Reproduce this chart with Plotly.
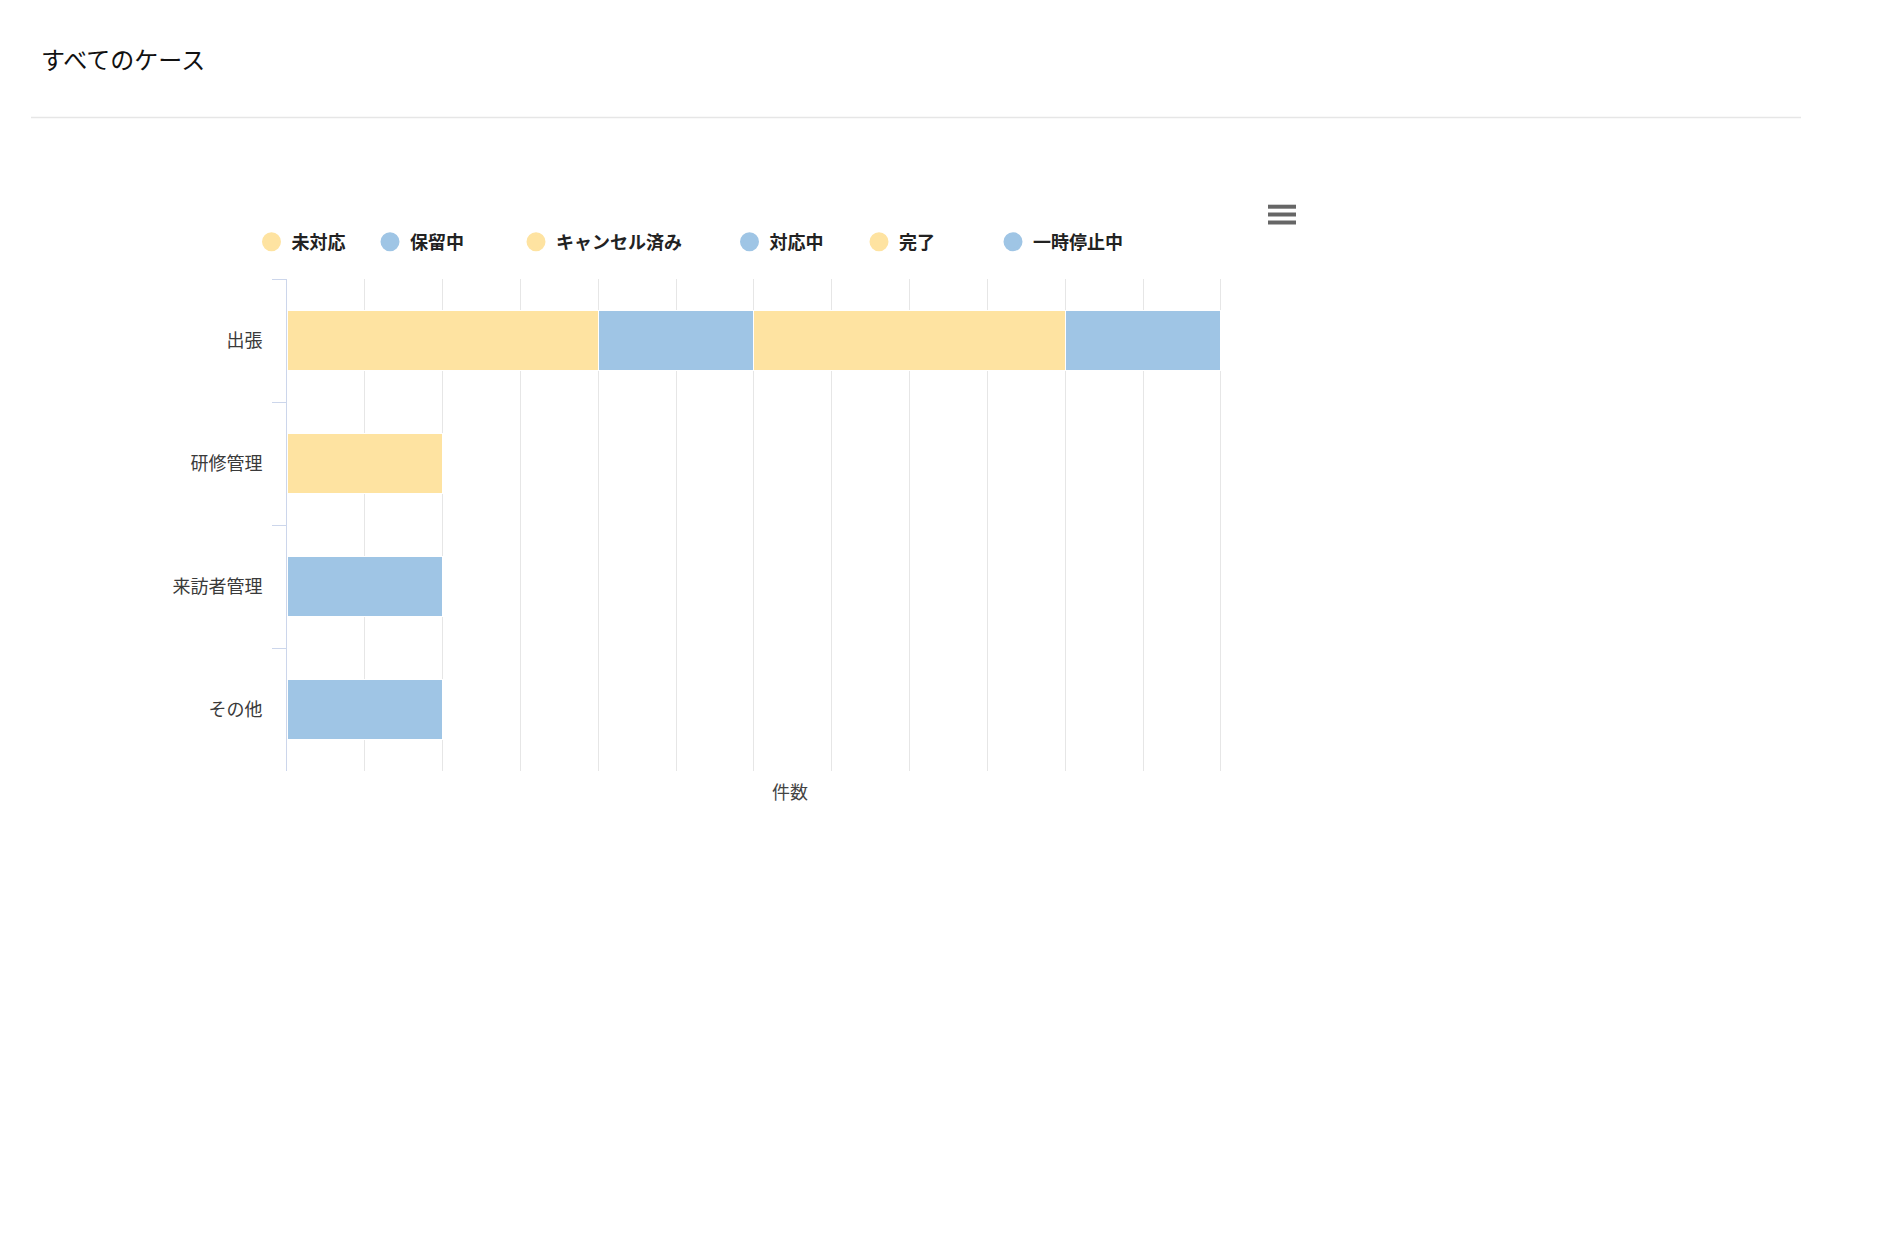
import plotly.graph_objects as go

# ---------------- data ----------------
categories = ["出張", "研修管理", "来訪者管理", "その他"]
series_names = ["未対応", "保留中", "キャンセル済み", "対応中", "完了", "一時停止中"]
v_mitaiou = [2, None, None, None]
v_horyuu = [1, None, None, None]
v_cancel = [2, None, None, None]
v_taiouchuu = [1, None, None, None]
v_kanryou = [None, 1, None, None]
v_ichiji = [None, None, 1, 1]
series_values = [v_mitaiou, v_horyuu, v_cancel, v_taiouchuu, v_kanryou, v_ichiji]
x_axis_title = "件数"
chart_title = "すべてのケース"

# ---------------- styles ----------------
YELLOW = "#fee3a1"
BLUE = "#9fc5e5"
series_colors = [YELLOW, BLUE, YELLOW, BLUE, YELLOW, BLUE]
FONT = "Noto Sans CJK JP"

W, H = 1880, 1250
L, R, T, B = 287, 1224, 279, 771  # plot area in pixels
X_MAX = 6.02


def px_x(px):
    return (px - L) / (R - L)


def px_y(py):
    return (B - py) / (B - T)


fig = go.Figure()

legend_centers = [271.5, 390, 536, 749.5, 879, 1013]
legend_y = 242

for i, (name, vals, col) in enumerate(zip(series_names, series_values, series_colors)):
    lname = "legend" if i == 0 else f"legend{i + 1}"
    fig.add_trace(go.Bar(
        name=name, y=categories, x=vals, orientation="h",
        marker=dict(color=col, line=dict(color="white", width=1)),
        showlegend=False, legendgroup=name,
    ))
    fig.add_trace(go.Scatter(
        name=name, x=[None], y=[None], mode="markers",
        marker=dict(color=col, size=16, line=dict(color=col, width=3)),
        showlegend=True, legendgroup=name, legend=lname,
    ))

layout_legends = {}
for i, cx in enumerate(legend_centers):
    lname = "legend" if i == 0 else f"legend{i + 1}"
    layout_legends[lname] = dict(
        x=px_x(cx - 20), y=px_y(legend_y), xanchor="left", yanchor="middle",
        orientation="h", bgcolor="rgba(0,0,0,0)", borderwidth=0,
        font=dict(family=FONT, size=18, color="#222222", weight="bold"),
    )

shapes = [
    # divider under the title
    dict(type="line", xref="paper", yref="paper",
         x0=px_x(31), x1=px_x(1801), y0=px_y(117.5), y1=px_y(117.5),
         line=dict(color="#e6e6e6", width=1.5)),
]
# hamburger (export menu) icon
for cy in [206.7, 214.5, 222.5]:
    shapes.append(dict(type="rect", xref="paper", yref="paper",
                       x0=px_x(1268), x1=px_x(1296), y0=px_y(cy + 2), y1=px_y(cy - 2),
                       fillcolor="#666666", line=dict(width=0)))

fig.update_layout(
    width=W, height=H, autosize=False,
    margin=dict(l=L, r=W - R, t=T, b=H - B, pad=0),
    paper_bgcolor="white", plot_bgcolor="white",
    barmode="stack", bargap=0.52,
    font=dict(family=FONT, color="#444444"),
    title=dict(text=chart_title, x=41 / W, xanchor="left", xref="container",
               y=1 - 61 / H, yanchor="middle", yref="container",
               font=dict(family=FONT, size=24, color="#111111")),
    xaxis=dict(range=[0, X_MAX], dtick=0.5, tick0=0, showticklabels=False,
               showgrid=True, gridcolor="#e6e6e6", gridwidth=1,
               zeroline=False, showline=False, ticks=""),
    yaxis=dict(categoryorder="array", categoryarray=categories, autorange="reversed",
               showgrid=False, zeroline=False, showline=True, linecolor="#ccd6eb", linewidth=1,
               ticks="outside", tickson="boundaries", ticklen=14, tickcolor="#ccd6eb", tickwidth=1,
               ticklabelstandoff=20,
               tickfont=dict(family=FONT, size=18, color="#3a3a3a")),
    shapes=shapes,
    annotations=[dict(text=x_axis_title, xref="paper", yref="paper",
                      x=px_x(790), y=px_y(791), xanchor="center", yanchor="middle",
                      showarrow=False, font=dict(family=FONT, size=18, color="#444444"))],
    **layout_legends,
)

fig.write_html("out.html", config={"displayModeBar": False},
               post_script="document.body.style.margin='0';document.body.style.overflow='hidden';")
